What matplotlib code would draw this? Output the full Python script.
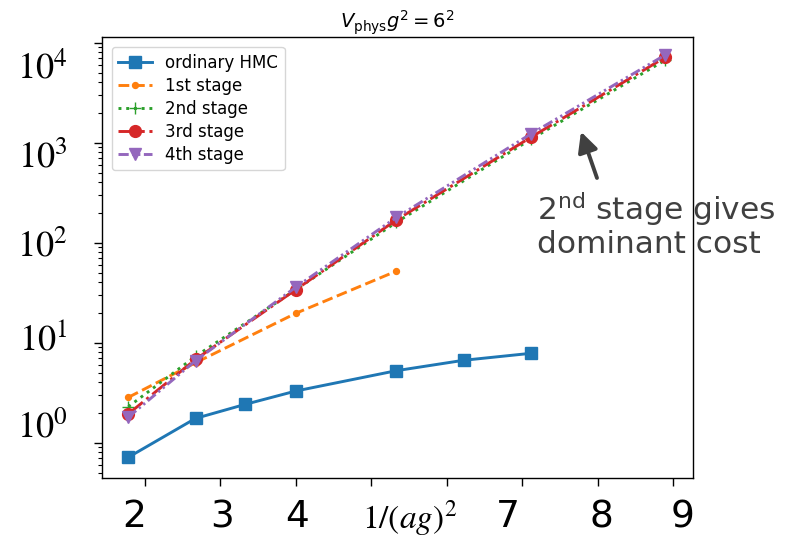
import matplotlib
matplotlib.use("Agg")
import matplotlib.pyplot as plt
from matplotlib.transforms import ScaledTranslation

# data
x_hmc = [1.78, 2.67, 3.33, 4.0, 5.33, 6.22, 7.11]
hmc = [0.715, 1.75, 2.42, 3.29, 5.25, 6.67, 7.83]
x_st1 = [1.78, 2.67, 4.0, 5.33]
st1 = [2.84, 6.3, 19.7, 52]
x_st = [1.78, 2.67, 4.0, 5.33, 7.11, 8.89]
st2 = [2.29, 7.3, 34, 160, 1080, 6700]
st3 = [1.94, 6.8, 34, 169, 1132, 7140]
st4 = [1.80, 6.6, 36, 179, 1222, 7540]

xticks = [2, 3, 4, 5, 6, 7, 8, 9]
xticklabels = ['2', '3', '4', '', '', '7', '8', '9']
yticks = [1, 10, 100, 1000, 10000]
yticklabels = [r'$10^{0}$', r'$10^{1}$', r'$10^{2}$', r'$10^{3}$', r'$10^{4}$']

fig = plt.figure(figsize=(7.88, 5.41), dpi=100)
ax = fig.add_axes([0.129, 0.117, 0.750, 0.8146])

lw = 2.1
ms = 8.5
ax.plot(x_hmc, hmc, '-', marker='s', lw=lw, ms=ms, color='tab:blue', label='ordinary HMC')
ax.plot(x_st1, st1, '--', marker='.', lw=lw, ms=ms, color='tab:orange', label='1st stage')
ax.plot(x_st, st2, ':', marker='+', lw=lw, ms=ms, color='tab:green', label='2nd stage')
ax.plot(x_st, st3, '-.', marker='o', lw=lw, ms=ms, color='tab:red', label='3rd stage')
ax.plot(x_st, st4, linestyle=(0, (3.5, 1.2, 0.8, 1.2, 0.8, 1.2)), marker='v', lw=lw, ms=ms,
        color='tab:purple', label='4th stage')

ax.set_yscale('log')
ax.set_xlim(1.427, 9.254)
ax.set_ylim(10 ** -0.35, 10 ** 4.057)

ax.set_xticks(xticks)
ax.set_xticklabels(xticklabels, fontsize=27, family='DejaVu Sans')
ax.set_yticks(yticks)
ax.set_yticklabels(yticklabels, fontsize=26, math_fontfamily='stix')
ax.tick_params(axis='x', which='major', length=5.5, width=1, pad=10)
ax.tick_params(axis='y', which='major', length=5.5, width=1, pad=19)
ax.tick_params(axis='y', which='minor', length=3, width=0.8)
for s in ax.spines.values():
    s.set_linewidth(1.0)

# the labels in the reference sit a bit off their ticks
x_off = [-11, 2, 1, 0, 0, -15, 3, 9]
for t, d in zip(ax.xaxis.get_major_ticks(), x_off):
    lab = t.label1
    lab.set_transform(lab.get_transform() + ScaledTranslation(d / 100, 0, fig.dpi_scale_trans))
y_off = [-19, -7, 0, 11, 22]
for t, d in zip(ax.yaxis.get_major_ticks(), y_off):
    lab = t.label1
    lab.set_transform(lab.get_transform() + ScaledTranslation(0, -d / 100, fig.dpi_scale_trans))

ax.set_title(r'$V_{\rm phys}g^2 = 6^2$', fontsize=14)

ax.legend(loc='upper left', fontsize=12, labelspacing=0.3, borderaxespad=0.6)

fig.text(362 / 788, 1 - 518 / 541, r'$1/(ag)^2$', fontsize=24, math_fontfamily='stix',
         ha='left', va='center')

ax.annotate('', xy=(7.775, 1288), xytext=(7.987, 444),
            arrowprops=dict(arrowstyle='-|>', color='#404040', lw=2.8, mutation_scale=30,
                            shrinkA=0, shrinkB=0))
ax.text(7.19, 336, '2$^{\\rm nd}$ stage gives\ndominant cost', fontsize=22.5, color='#404040',
        ha='left', va='top', linespacing=1.1, clip_on=False)

fig.savefig('out.png', dpi=100)
